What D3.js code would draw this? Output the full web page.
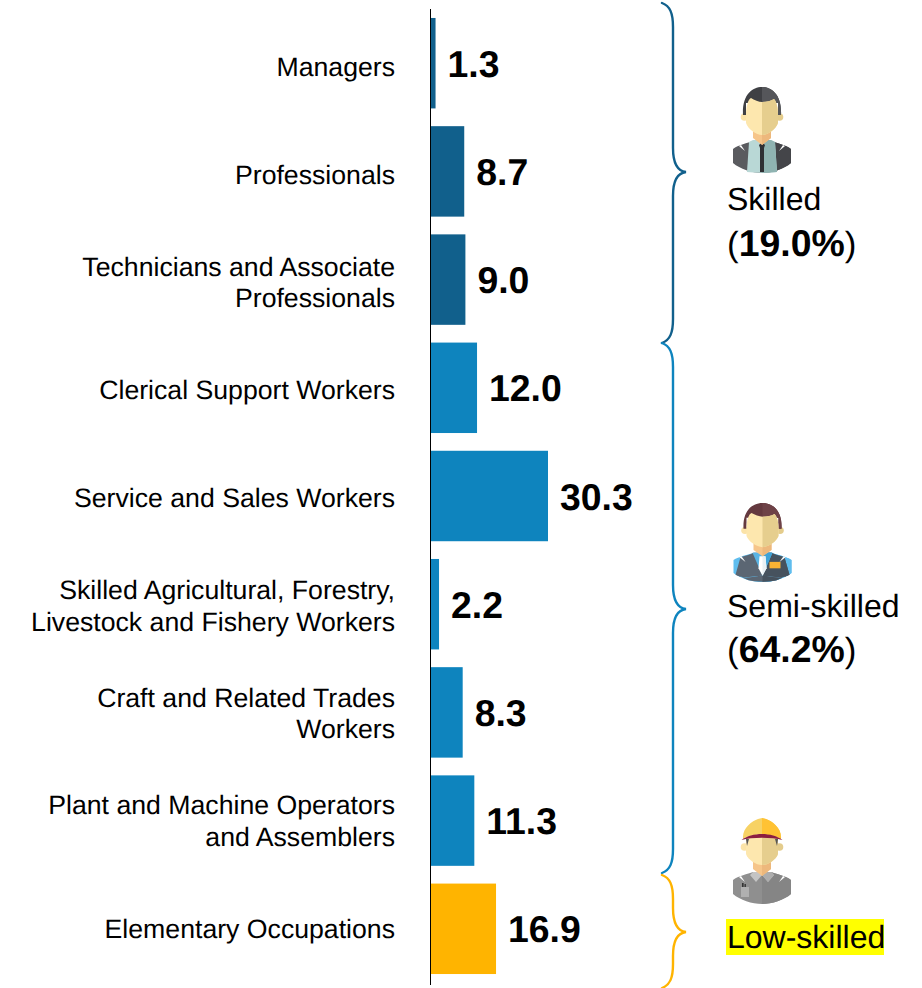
<!DOCTYPE html>
<html><head><meta charset="utf-8">
<script src="https://cdn.jsdelivr.net/npm/d3@7/dist/d3.min.js"></script>
<style>html,body{margin:0;padding:0;background:#fff}svg{display:block}text{font-family:"Liberation Sans",Arial,sans-serif;fill:#000;text-rendering:geometricPrecision}</style>
</head><body><div id="c"></div>
<script>
const categories = [
  ["Managers"],["Professionals"],["Technicians and Associate","Professionals"],
  ["Clerical Support Workers"],["Service and Sales Workers"],
  ["Skilled Agricultural, Forestry,","Livestock and Fishery Workers"],
  ["Craft and Related Trades","Workers"],["Plant and Machine Operators","and Assemblers"],
  ["Elementary Occupations"]];
const values = [1.3,8.7,9.0,12.0,30.3,2.2,8.3,11.3,16.9];
const groupOf = [0,0,0,1,1,1,1,1,2];
const groupColors = ["#11608C","#0E84BE","#FFB400"];
const groupNames = ["Skilled","Semi-skilled","Low-skilled"];
const groupShares = ["19.0%","64.2%",null];

const W=922,H=988, x0=430.5;
const svg=d3.select("#c").append("svg").attr("width",W).attr("height",H);
const idx=categories.map((d,i)=>i);
const y=d3.scaleBand().domain(idx).range([9.1,982.9]).paddingInner(.164).paddingOuter(.082);
const x=d3.scaleLinear().domain([0,30.3]).range([x0,548]);
const labelY=d3.scaleLinear().domain([0,categories.length-1]).range([67,929]);

svg.selectAll("rect.bar").data(values).join("rect").attr("class","bar")
 .attr("x",x0).attr("y",(d,i)=>y(i)).attr("width",d=>x(d)-x0).attr("height",y.bandwidth())
 .attr("fill",(d,i)=>groupColors[groupOf[i]]);

svg.append("line").attr("x1",x0).attr("x2",x0).attr("y1",9).attr("y2",985).attr("stroke","#000").attr("stroke-width",1);

const cat=svg.selectAll("text.cat").data(categories).join("text").attr("class","cat")
 .attr("text-anchor","end").attr("font-size",26.67);
cat.each(function(lines,i){
  const c=labelY(i);
  d3.select(this).selectAll("tspan").data(lines).join("tspan").attr("x",395)
    .attr("y",(l,k)=>c+9+(k-(lines.length-1)/2)*31.8).text(l=>l);
});
svg.selectAll("text.val").data(values).join("text").attr("class","val")
 .attr("x",d=>x(d)+12).attr("y",(d,i)=>y(i)+y.bandwidth()/2+13.5)
 .attr("font-size",37.4).attr("font-weight","bold").text(d=>d.toFixed(1));

// braces
function brace(top,bot,tip){
  const a=662,b=673,c=686;
  return `M${a},${top}C${a+8},${top+3} ${b},${top+10} ${b},${top+24}L${b},${tip-24}C${b},${tip-10} ${b+4},${tip-1} ${c},${tip}`+
         `C${b+4},${tip+1} ${b},${tip+10} ${b},${tip+24}L${b},${bot-24}C${b},${bot-10} ${a+8},${bot-3} ${a},${bot}`;
}
const braceRuns=[[3,343,172],[343,873,609],[875,988,932]];
svg.selectAll("path.brace").data(braceRuns).join("path").attr("class","brace")
 .attr("d",d=>brace(d[0],d[1],d[2])).attr("fill","none").attr("stroke-width",2.4).attr("stroke-linecap","round")
 .attr("stroke",(d,i)=>groupColors[i]);

// group labels
svg.append("rect").attr("x",726).attr("y",919).attr("width",158).attr("height",36).attr("fill","#FFFF00");
const gl=[[210,256],[617,662],[948,null]];
groupNames.forEach((n,i)=>{
  svg.append("text").attr("x",727).attr("y",gl[i][0]).attr("font-size",32).text(n);
  if(groupShares[i]){
    const t=svg.append("text").attr("x",727).attr("y",gl[i][1]).attr("font-size",37.4);
    t.append("tspan").attr("font-size",35).text("(");
    t.append("tspan").attr("font-weight","bold").text(groupShares[i]);
    t.append("tspan").attr("font-size",35).text(")");
  }
});

// person icons
let clipN=0;
const faceD="M-16,28C-16,20 -14,12 -11,11C-8,13 -3,15 0,15C5,15 9,14 12,12C15,15 16,22 16,28L16,36C14,42 6,48 0,48C-6,48 -14,42 -16,36Z";
const bodyD="M-29,62C-24,58 -14,56 -9,54L9,54C14,56 24,58 29,62L29,76C22,82 10,86 0,86C-10,86 -22,82 -29,76Z";
function person(cx,top,o){
  const g=svg.append("g").attr("transform",`translate(${cx},${top}) scale(1,${o.sy||1})`);
  const id="halfclip"+(clipN++);
  g.append("clipPath").attr("id",id).append("rect").attr("x",0).attr("y",-5).attr("width",40).attr("height",100);
  const half=(d,l,r)=>{ g.append("path").attr("d",d).attr("fill",l);
    g.append("path").attr("d",d).attr("fill",r).attr("clip-path",`url(#${id})`); };
  o.torso(g,half);
  half("M-9,38L9,38L9,51L0,58L-9,51Z","#F6C58A","#EDB87C");
  g.append("circle").attr("cx",-17.5).attr("cy",o.ear).attr("r",3.8).attr("fill","#FBE3A8");
  g.append("circle").attr("cx",17.5).attr("cy",o.ear).attr("r",3.8).attr("fill","#E4CC8C");
  o.head(g,half,faceD);
}
const notches=g=>{
  g.append("path").attr("d","M-23,59L-17,64L-21,58Z").attr("fill","#fff");
  g.append("path").attr("d","M23,59L17,64L21,58Z").attr("fill","#fff");
};
const hairD="M-19,28C-20,8 -10,0 0,0C10,0 20,8 19,28L16,28L16,16L-16,16L-16,28Z";
person(762,87,{ear:30,
  torso(g,half){
   half(bodyD,"#5A5B5F","#444549");
   half("M-13,55L-9,53L9,53L13,55L15,85C8,86 -8,86 -15,85Z","#B9D8D6","#8FB3B1");
   g.append("path").attr("d","M-3,58L0,55L3,58L2,61L2,85L-2,85L-2,61Z").attr("fill","#2E2F33");
   notches(g);
  },
  head(g,half,f){ half(hairD,"#3F4044","#55565A"); half(f,"#FDE7AE","#E6CE8E"); }});
person(762.5,503,{ear:30,sy:.92,
  torso(g,half){
   half(bodyD,"#5FBDEE","#5FBDEE");
   half("M-22,59C-16,57 -12,56 -9,54L9,54C12,56 16,57 22,59L27,78C20,83 10,79 0,79C-10,79 -20,83 -27,78Z","#5B6673","#46525E");
   half("M-26,78C-18,84 -8,79 0,79C8,79 18,84 26,78L14,84C8,86 -8,86 -14,84Z","#5B6673","#46525E");
   half("M-10,54L10,54L0,79Z","#5AB4E4","#3FA3D8");
   half("M-3,58L3,58L4,71L0,79L-4,71Z","#FFFFFF","#E8F0F4");
   g.append("rect").attr("x",7).attr("y",64).attr("width",11).attr("height",7).attr("fill","#F9B233");
   notches(g);
  },
  head(g,half,f){ half(hairD,"#64393F","#6E4247"); half(f,"#FDE7AE","#E6CE8E"); }});
person(762,818,{ear:29,
  torso(g,half){
   half(bodyD,"#8F8F8F","#858585");
   half("M-9,54L-12,57L-6,64L0,57L6,64L12,57L9,54Z","#C4C4C4","#ADADAD");
   g.append("rect").attr("x",-21).attr("y",69).attr("width",8).attr("height",10).attr("fill","#B0B0B0");
   g.append("rect").attr("x",-20).attr("y",65).attr("width",1.6).attr("height",4).attr("fill","#333");
   g.append("rect").attr("x",-17.5).attr("y",66).attr("width",1.4).attr("height",3).attr("fill","#333");
   notches(g);
  },
  head(g,half,f){
   half("M-16,28C-16,24 -16,21 -15,19L15,19C16,21 16,24 16,28L16,36C14,42 6,47 0,47C-6,47 -14,42 -16,36Z","#FDE7AE","#E6CE8E");
   g.append("path").attr("d","M-16,21L-13,21L-15,28Z").attr("fill","#555");
   g.append("path").attr("d","M16,21L13,21L15,28Z").attr("fill","#555");
   half("M-19,21C-20,10 -10,3 -4,1L0,0L4,1C10,3 20,10 19,21C10,15 -10,15 -19,21Z","#F7D264","#FFC233");
   g.append("path").attr("d","M-20.5,22C-10,14 10,14 20.5,22C10,19 -10,19 -20.5,22Z").attr("fill","#8C1D40");
  }});
</script></body></html>
